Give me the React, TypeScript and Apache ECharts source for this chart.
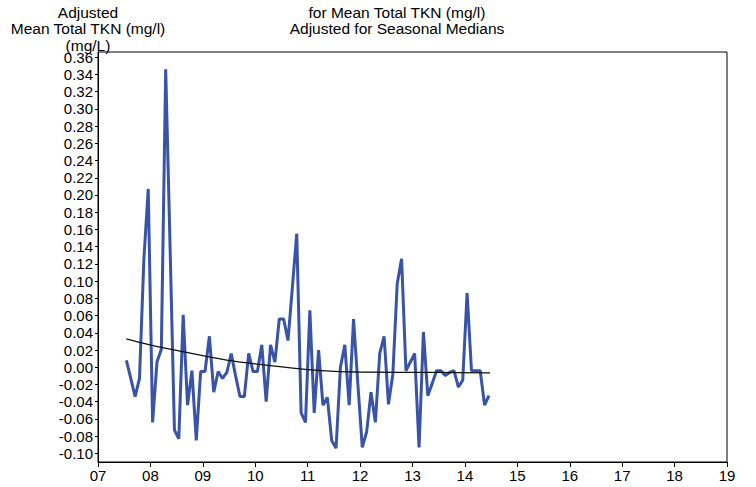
import React, { useEffect, useRef } from "react";
import * as echarts from "echarts";

// Monthly adjusted values, Jul 2007 .. Jun 2014 (84 months)
const startYear = 7; // 2007
const startMonth = 6; // July (0-based)
const adjustedValues: number[] = [
  0.008, -0.013, -0.034, -0.013, 0.125, 0.207, -0.064, 0.006, 0.021, 0.346,
  0.14, -0.073, -0.083, 0.061, -0.044, -0.004, -0.085, -0.005, -0.005, 0.036,
  -0.029, -0.005, -0.013, -0.006, 0.016, -0.01, -0.034, -0.034, 0.016, -0.005,
  -0.005, 0.026, -0.04, 0.026, 0.006, 0.056, 0.056, 0.031, 0.093, 0.155,
  -0.053, -0.064, 0.066, -0.053, 0.02, -0.044, -0.035, -0.085, -0.094, 0.0,
  0.026, -0.044, 0.056, -0.02, -0.093, -0.075, -0.029, -0.064, 0.016, 0.036,
  -0.043, -0.008, 0.097, 0.126, -0.004, 0.006, 0.016, -0.093, 0.041, -0.033,
  -0.019, -0.004, -0.004, -0.0096, -0.006, -0.004, -0.023, -0.015, 0.086, -0.004,
  -0.004, -0.004, -0.044, -0.033,
];

// Smooth trend line samples (year, value)
const trendYears: number[] = [7.54, 7.99, 8.47, 9.0, 9.48, 10.13, 11.0, 11.96, 13.52, 14.48];
const trendValues: number[] = [0.033, 0.026, 0.02, 0.0135, 0.008, 0.003, -0.0027, -0.0055, -0.006, -0.0065];

const yTickValues: number[] = [
  -0.1, -0.08, -0.06, -0.04, -0.02, 0, 0.02, 0.04, 0.06, 0.08, 0.1, 0.12,
  0.14, 0.16, 0.18, 0.2, 0.22, 0.24, 0.26, 0.28, 0.3, 0.32, 0.34, 0.36,
];

const leftTitle = ["Adjusted", "Mean Total TKN (mg/l)", "(mg/L)"];
const centerTitleHidden = "Station_Seasonal Kendall Tau_Monthly Trend";
const centerTitle = ["for Mean Total TKN (mg/l)", "Adjusted for Seasonal Medians"];

const FONT = "'Liberation Sans', Arial, sans-serif";

export default function App() {
  const ref = useRef<HTMLDivElement>(null);
  useEffect(() => {
    if (!ref.current) return;
    const chart = echarts.init(ref.current, undefined, { renderer: "svg" });
    const seriesData = adjustedValues.map((v, i) => [
      startYear + (startMonth + 0.5 + i) / 12,
      v,
    ]);
    const trendData = trendYears.map((x, i) => [x, trendValues[i]]);
    const titleStyle = { fontFamily: FONT, fontSize: 15.5, fill: "#000" };
    chart.setOption({
      animation: false,
      backgroundColor: "#fff",
      grid: {
        left: 98,
        right: 29,
        top: 52,
        bottom: 25,
        show: true,
        borderColor: "#000",
        borderWidth: 1,
      },
      xAxis: {
        type: "value",
        min: 7,
        max: 19,
        interval: 1,
        axisLine: { onZero: false, lineStyle: { color: "#000", width: 1 } },
        axisTick: { show: true, length: 5, lineStyle: { color: "#000" } },
        splitLine: { show: false },
        axisLabel: {
          color: "#000",
          fontFamily: FONT,
          fontSize: 15,
          margin: 6,
          formatter: (v: number) => String(Math.round(v)).padStart(2, "0"),
        },
      },
      yAxis: {
        type: "value",
        min: -0.11,
        max: 0.366,
        axisLine: { show: true, onZero: false, lineStyle: { color: "#000", width: 1 } },
        axisTick: {
          show: true,
          length: 3,
          customValues: yTickValues,
          lineStyle: { color: "#000" },
        },
        splitLine: { show: false },
        axisLabel: {
          color: "#000",
          fontFamily: FONT,
          fontSize: 15,
          margin: 5,
          customValues: yTickValues,
          formatter: (v: number) => (Math.abs(v) < 1e-9 ? "0.00" : v.toFixed(2)),
        },
      },
      series: [
        {
          type: "line",
          data: seriesData,
          showSymbol: false,
          lineStyle: { color: "#3953a8", width: 3 },
          z: 2,
        },
        {
          type: "line",
          data: trendData,
          showSymbol: false,
          smooth: 0.4,
          lineStyle: { color: "#111", width: 1.3 },
          z: 3,
        },
      ],
      graphic: [
        {
          type: "text",
          x: 397,
          y: -9,
          style: { ...titleStyle, text: centerTitleHidden, textAlign: "center", textVerticalAlign: "middle" },
        },
        ...centerTitle.map((t, i) => ({
          type: "text",
          x: 397,
          y: 12 + i * 16.5,
          style: { ...titleStyle, text: t, textAlign: "center", textVerticalAlign: "middle" },
        })),
        ...leftTitle.map((t, i) => ({
          type: "text",
          x: 88,
          y: 12 + i * 16.5,
          style: { ...titleStyle, text: t, textAlign: "center", textVerticalAlign: "middle" },
        })),
      ],
    });
    return () => chart.dispose();
  }, []);
  return (
    <div
      ref={ref}
      style={{ position: "fixed", left: 0, top: 0, width: 756, height: 487 }}
    />
  );
}
